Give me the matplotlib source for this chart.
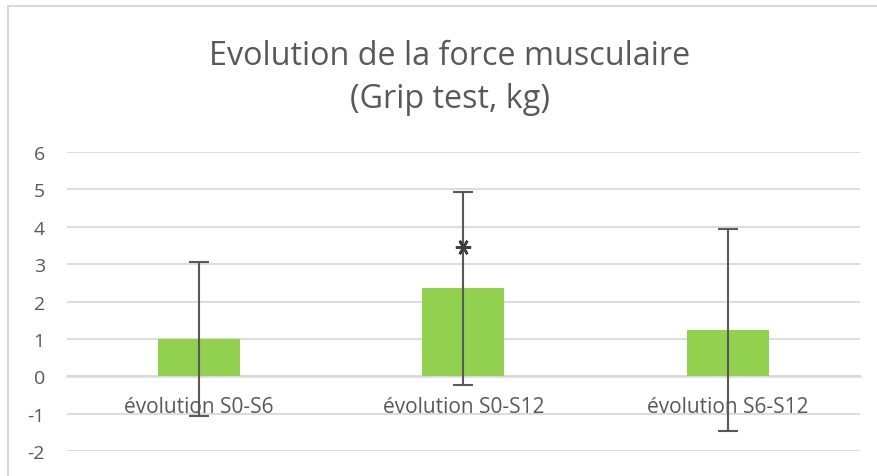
import matplotlib.pyplot as plt
from matplotlib.patches import Rectangle

categories = ['évolution S0-S6', 'évolution S0-S12', 'évolution S6-S12']
means = [1.0, 2.35, 1.23]
errors = [2.05, 2.59, 2.70]
signif = [False, True, False]
signif_y = [0, 3.45, 0]
yticks = [-2, -1, 0, 1, 2, 3, 4, 5, 6]

text_col = '#595959'
grid_col = '#D9D9D9'
bar_col = '#92D050'

plt.rcParams['font.family'] = ['Open Sans', 'DejaVu Sans']

fig = plt.figure(figsize=(8.77, 4.77), dpi=100)
ax = fig.add_axes([0.0764, 0.0524, 0.904, 0.6268])

# chart border (cropped at right and bottom)
fig.patches.append(Rectangle((8 / 877, -0.1), 1.1, 1.1 - 7 / 477, transform=fig.transFigure,
                             fill=False, edgecolor=grid_col, linewidth=1.5))

x = range(len(categories))
ax.bar(x, means, width=0.31, color=bar_col, zorder=2)
ax.errorbar(x, means, yerr=errors, fmt='none', ecolor=text_col, elinewidth=1.5,
            capsize=7, capthick=1.5, zorder=3)
for i, s in enumerate(signif):
    if s:
        ax.plot(i, signif_y[i], marker=(6, 2, 30), ms=11, mew=1.8, color='#404040',
                linestyle='none', zorder=4)

ax.set_xlim(-0.5, len(categories) - 0.5)
ax.set_ylim(-2, 6)
ax.set_yticks(yticks)
ax.set_yticklabels([str(v) for v in yticks])
ax.yaxis.grid(True, color=grid_col, linewidth=1.3, zorder=0)
ax.set_axisbelow(True)

for side in ['top', 'right', 'left']:
    ax.spines[side].set_visible(False)
ax.spines['bottom'].set_position(('data', 0))
ax.spines['bottom'].set_color(grid_col)
ax.spines['bottom'].set_linewidth(1.8)
ax.spines['bottom'].set_zorder(1)

ax.set_xticks(list(x))
ax.set_xticklabels(categories)
ax.tick_params(axis='x', length=0, pad=14, labelsize=15, labelcolor=text_col)
ax.tick_params(axis='y', length=0, pad=16, labelsize=14, labelcolor=text_col)

fig.text(0.513, 0.836, 'Evolution de la force musculaire\n(Grip test, kg)', ha='center', va='center',
         fontsize=23.3, color=text_col, linespacing=1.38)

fig.savefig('out.png', dpi=100, facecolor='white')
